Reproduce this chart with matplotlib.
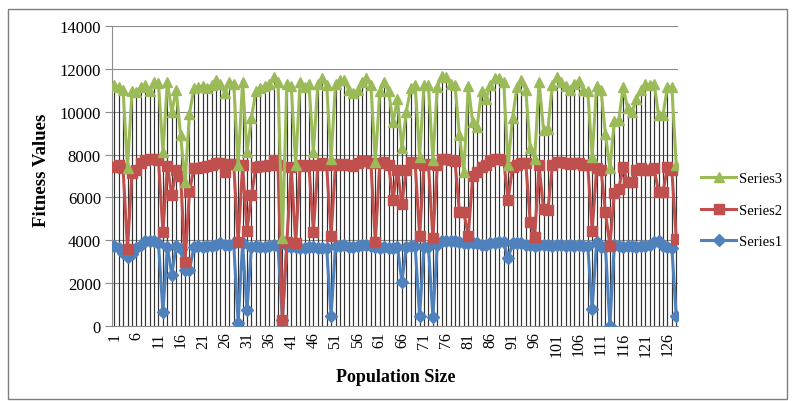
import matplotlib
matplotlib.use("Agg")
import matplotlib.pyplot as plt
import numpy as np
from matplotlib.patches import Rectangle

population = np.arange(1, 129)

series3 = [11250, 11150, 11000, 7350, 10950, 10900, 11150, 11250, 10950, 11400,
           11350, 8100, 11400, 10000, 11000, 8900, 6700, 9900, 11100, 11150,
           11200, 11100, 11250, 11500, 11300, 10850, 11400, 11300, 7500, 11400,
           8100, 9700, 10950, 11100, 11200, 11300, 11600, 11400, 4100, 11300,
           11200, 7500, 11400, 11150, 11300, 8100, 11300, 11550, 11250, 7800,
           11300, 11500, 11500, 11000, 10850, 11000, 11400, 11550, 11250, 7650,
           10950, 11400, 10950, 9500, 10600, 8300, 10000, 11100, 11250, 7900,
           11250, 11250, 7750, 11150, 11650, 11600, 11300, 11250, 8900, 7200,
           11200, 9500, 9300, 10950, 10600, 11250, 11550, 11550, 11400, 7500,
           9700, 11150, 11500, 11000, 8300, 7800, 11400, 9150, 9200, 11250,
           11600, 11400, 11200, 11000, 11300, 11450, 11000, 10950, 7900, 11200,
           11000, 8950, 7350, 9550, 9600, 11150, 10150, 10000, 10600, 11000,
           11300, 11250, 11300, 9850, 9850, 11150, 11150, 7500]

series2 = [7400, 7500, 7350, 3600, 7150, 7300, 7600, 7750, 7800, 7800,
           7750, 4400, 7450, 6100, 7300, 7000, 3000, 6300, 7350, 7350,
           7400, 7450, 7500, 7600, 7600, 7200, 7550, 7550, 3900, 7500,
           4450, 6100, 7400, 7450, 7450, 7500, 7750, 7500, 300, 3900,
           7400, 3850, 7500, 7450, 7500, 4400, 7500, 7600, 7500, 4200,
           7550, 7500, 7550, 7500, 7450, 7600, 7700, 7700, 7600, 3900,
           7600, 7650, 7500, 5900, 7300, 5700, 7300, 7650, 7600, 4200,
           7500, 7550, 4100, 7500, 7800, 7800, 7750, 7700, 5300, 5300,
           4200, 7000, 7200, 7400, 7500, 7700, 7800, 7800, 7750, 5900,
           7400, 7500, 7600, 7600, 4850, 4150, 7500, 5450, 5400, 7500,
           7650, 7650, 7600, 7550, 7600, 7600, 7500, 7500, 4450, 7350,
           7300, 5300, 3750, 6200, 6400, 7400, 6700, 6700, 7300, 7350,
           7300, 7300, 7350, 6250, 6250, 7400, 7300, 4050]

series1 = [3750, 3650, 3400, 3200, 3350, 3650, 3800, 3950, 3950, 3950,
           3850, 650, 3700, 2400, 3750, 3600, 2600, 2600, 3700, 3750,
           3700, 3750, 3750, 3800, 3850, 3800, 3800, 3850, 150, 3850,
           750, 3700, 3750, 3700, 3700, 3750, 3800, 3750, 300, 3750,
           3700, 3700, 3650, 3650, 3700, 3700, 3650, 3650, 3650, 450,
           3750, 3750, 3800, 3700, 3700, 3750, 3800, 3800, 3750, 3700,
           3650, 3700, 3650, 3650, 3700, 2050, 3700, 3750, 3750, 450,
           3700, 3700, 400, 3800, 3950, 3950, 3950, 3950, 3900, 3850,
           3850, 3850, 3850, 3800, 3800, 3850, 3850, 3900, 3900, 3150,
           3850, 3850, 3850, 3800, 3800, 3750, 3800, 3800, 3800, 3750,
           3800, 3800, 3750, 3800, 3750, 3800, 3750, 3750, 780, 3900,
           3700, 3700, 0, 3800, 3750, 3700, 3750, 3750, 3700, 3750,
           3750, 3800, 3900, 3950, 3750, 3700, 3650, 470]

serif = "Liberation Serif"

fig = plt.figure(figsize=(7.94, 4.02), dpi=100)
ax = fig.add_axes([0.1411, 0.1866, 0.7134, 0.7463])

# outer chart frame
fig.patches.append(Rectangle((8 / 794, 2 / 402), 779 / 794, 390 / 402,
                             transform=fig.transFigure, fill=False,
                             edgecolor="#7f7f7f", lw=1.0))

top = np.max([series3, series2, series1], axis=0)
ax.vlines(population, 0, top, color="#333333", lw=0.85, zorder=1)

ax.plot(population, series1, color="#4F81BD", lw=2.2, marker="D", ms=6,
        label="Series1", zorder=3)
ax.plot(population, series2, color="#C0504D", lw=2.2, marker="s", ms=7,
        label="Series2", zorder=4)
ax.plot(population, series3, color="#9BBB59", lw=2.2, marker="^", ms=7,
        label="Series3", zorder=5)

ax.set_xlim(0.5, 128.5)
ax.set_ylim(0, 14000)
ax.set_yticks(np.arange(0, 14001, 2000))
ax.set_xticks(np.arange(1, 128, 5))
ax.grid(axis="y", color="#8c8c8c", lw=0.8, zorder=0)
ax.set_axisbelow(True)

for s in ["top", "right"]:
    ax.spines[s].set_visible(False)
for s in ["left", "bottom"]:
    ax.spines[s].set_color("#8c8c8c")

ax.tick_params(axis="y", length=5, color="#8c8c8c", labelsize=12, pad=3)
ax.tick_params(axis="x", length=0, labelsize=11.5, labelrotation=90, pad=4)
for lab in ax.get_xticklabels() + ax.get_yticklabels():
    lab.set_fontfamily(serif)

ax.set_xlabel("Population Size", fontfamily=serif, fontweight="bold",
              fontsize=13, labelpad=9)
ax.set_ylabel("Fitness Values", fontfamily=serif, fontweight="bold",
              fontsize=13.5)
ax.yaxis.set_label_coords(-0.11, 0.523)

handles, labels = ax.get_legend_handles_labels()
leg = fig.legend(handles[::-1], labels[::-1], loc="center left",
                 bbox_to_anchor=(0.883, 0.475), frameon=False,
                 prop={"family": serif, "size": 10.5}, handlelength=2.4,
                 labelspacing=1.25, handletextpad=0.2, borderpad=0,
                 borderaxespad=0)

fig.savefig("out.png", dpi=100)
